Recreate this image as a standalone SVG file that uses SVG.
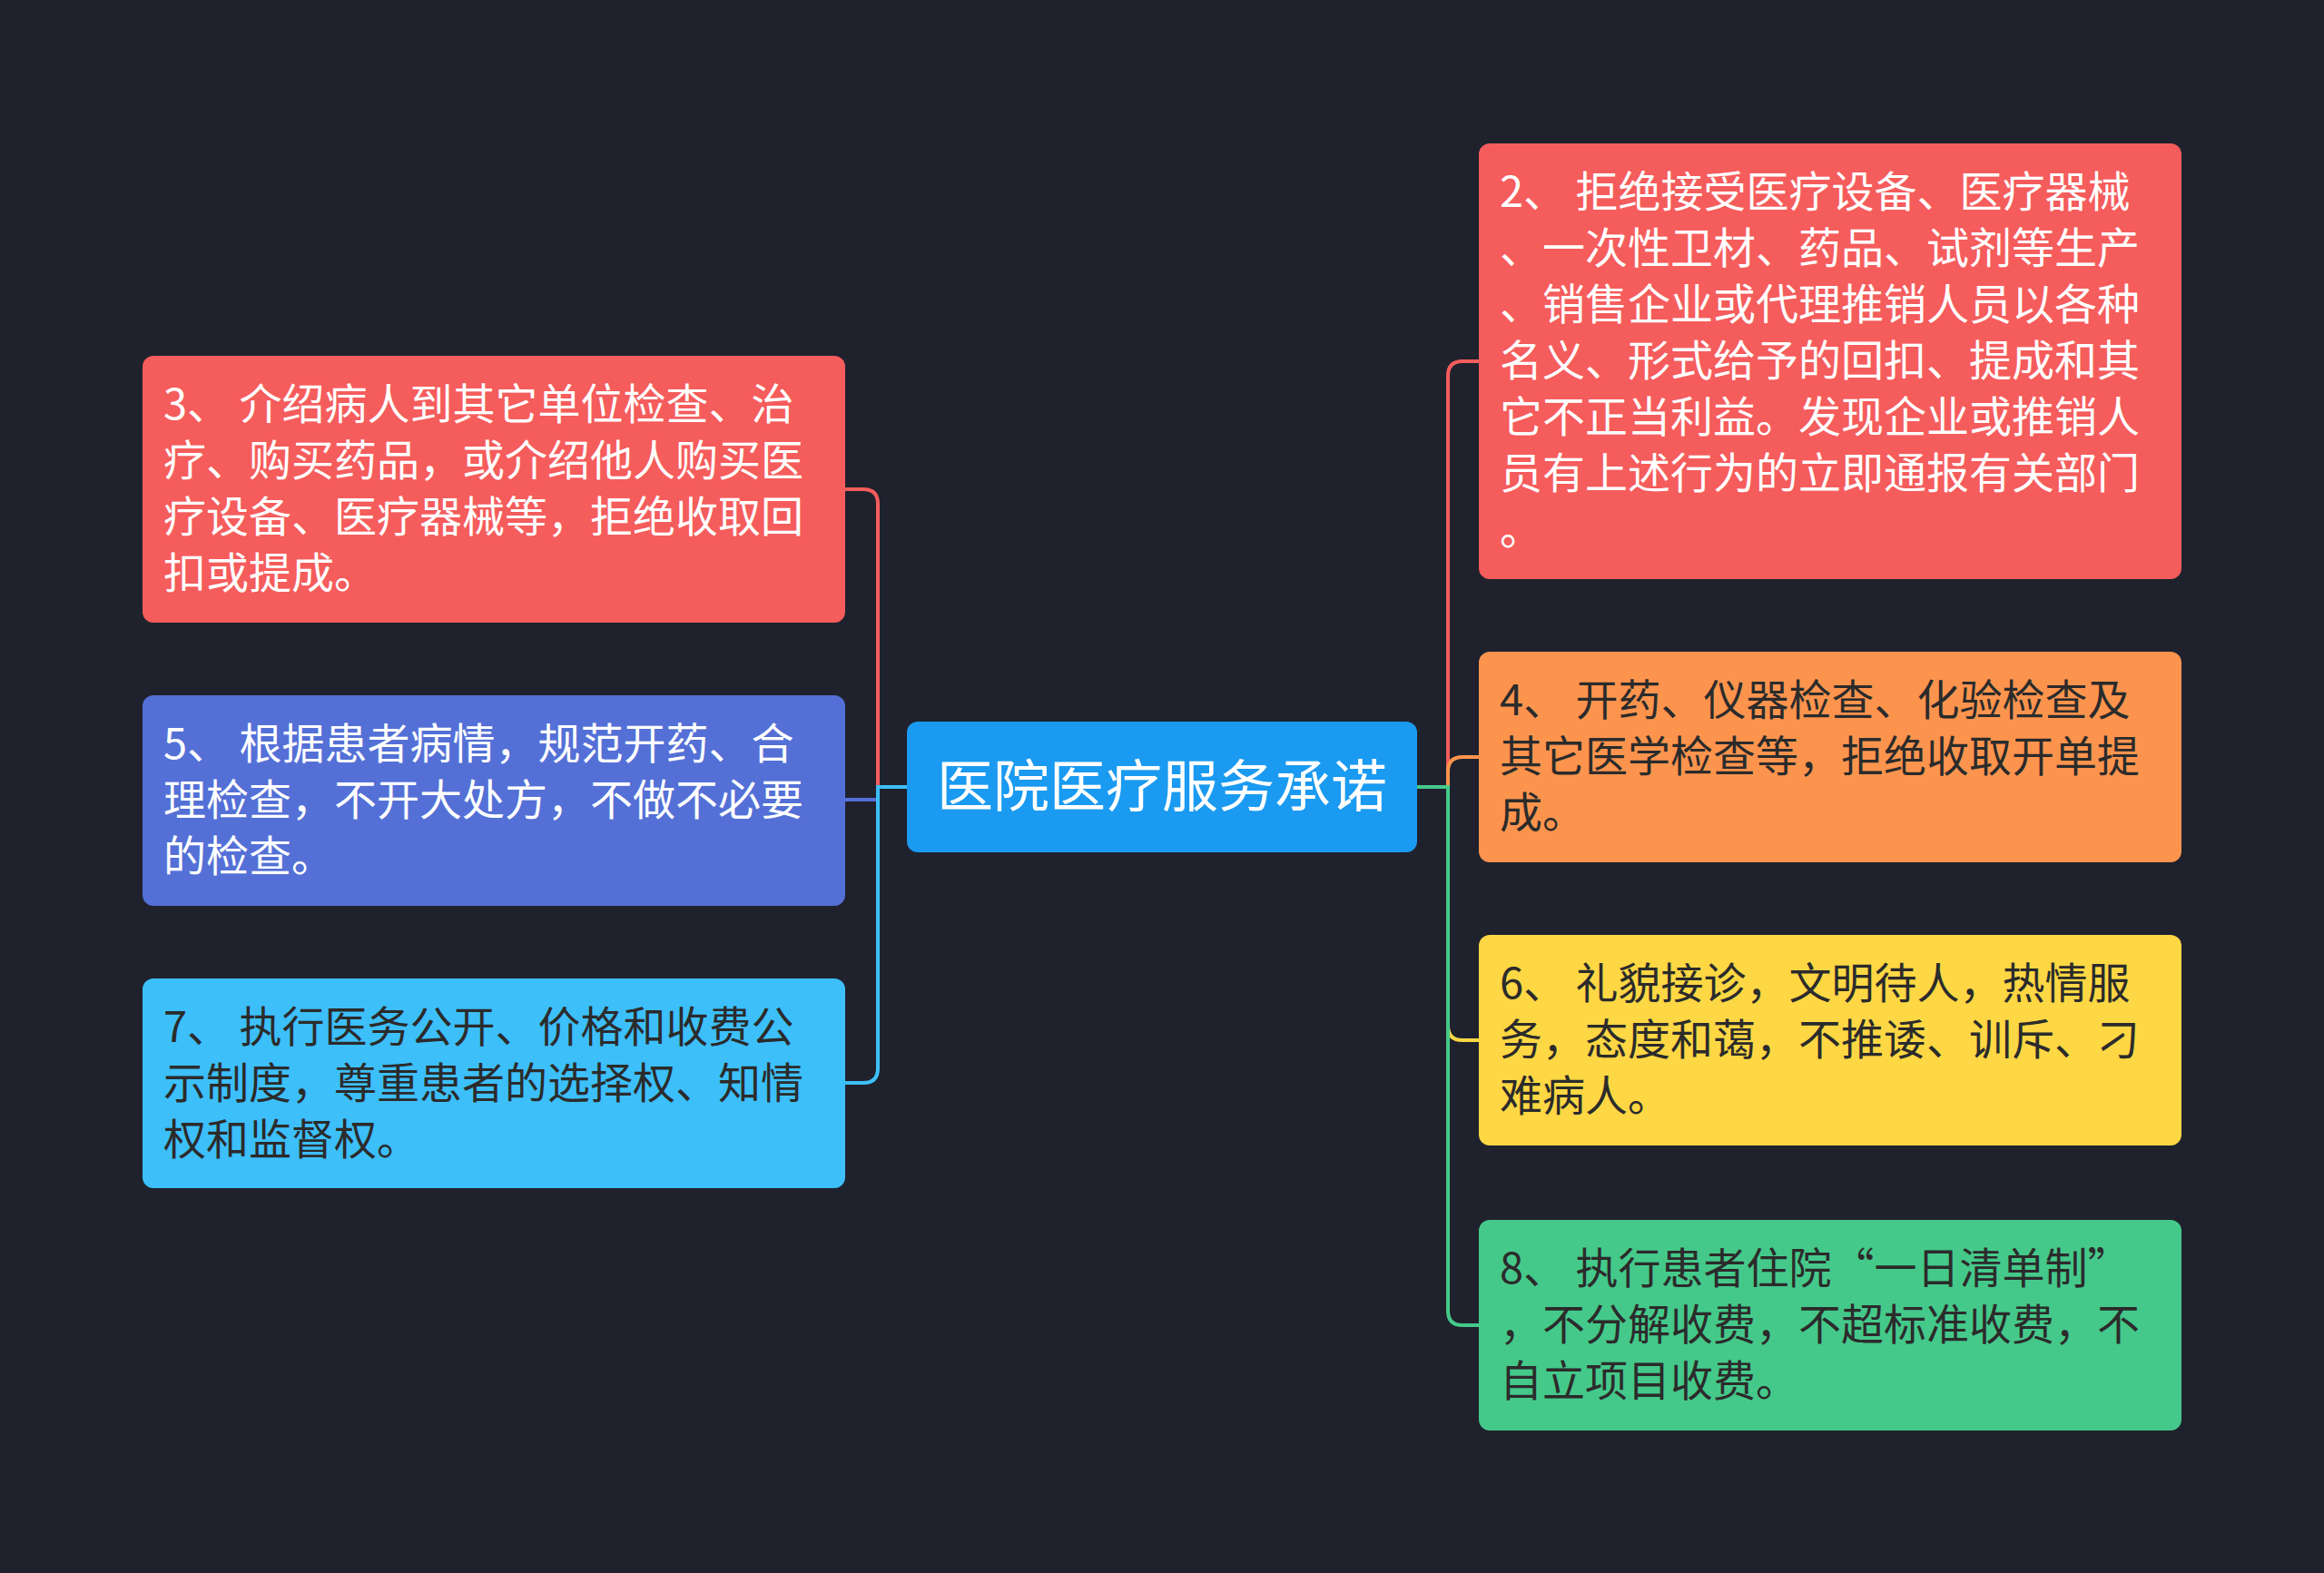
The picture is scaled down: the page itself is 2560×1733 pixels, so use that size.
<svg xmlns="http://www.w3.org/2000/svg" width="2560" height="1733" viewBox="0 0 2560 1733">
<style>
.t{font-family:"Noto Sans CJK SC","Noto Sans",sans-serif;font-size:47px}
.w{fill:#ffffff}.d{fill:#2b2b2b}
.c{fill:none;stroke-width:4}
</style>
<rect width="2560" height="1733" fill="#1f222d"/>
<g id="connectors">
<path class="c" stroke="#f55c5c" d="M999 867 H967 V555 Q967 539 951 539 H931"/>
<path class="c" stroke="#5470d6" d="M999 867 H967 V881 H931"/>
<path class="c" stroke="#3dbffa" d="M999 867 H967 V1177 Q967 1193 951 1193 H931"/>
<path class="c" stroke="#f55c5c" d="M1561 867 H1595 V414 Q1595 398 1611 398 H1629"/>
<path class="c" stroke="#fd944e" d="M1561 867 H1595 V850 Q1595 834 1611 834 H1629"/>
<path class="c" stroke="#fdd744" d="M1561 867 H1595 V1130 Q1595 1146 1611 1146 H1629"/>
<path class="c" stroke="#45c98a" d="M1561 867 H1595 V1444 Q1595 1460 1611 1460 H1629"/>
</g>
<g id="center"><rect x="999" y="795" width="562" height="144" rx="12" fill="#1a9af0"/>
<text class="t w" x="1280" y="889" text-anchor="middle" style="font-size:62px">医院医疗服务承诺</text></g>
<g id="n3"><rect x="157" y="392" width="774" height="294" rx="12" fill="#f55c5c"/>
<text class="t w"><tspan x="180" y="462">3、 介绍病人到其它单位检查、治</tspan><tspan x="180" y="524">疗、购买药品，或介绍他人购买医</tspan><tspan x="180" y="586">疗设备、医疗器械等，拒绝收取回</tspan><tspan x="180" y="648">扣或提成。</tspan></text></g>
<g id="n5"><rect x="157" y="766" width="774" height="232" rx="12" fill="#5470d6"/>
<text class="t w"><tspan x="180" y="836">5、 根据患者病情，规范开药、合</tspan><tspan x="180" y="898">理检查，不开大处方，不做不必要</tspan><tspan x="180" y="960">的检查。</tspan></text></g>
<g id="n7"><rect x="157" y="1078" width="774" height="231" rx="12" fill="#3dbffa"/>
<text class="t d"><tspan x="180" y="1148">7、 执行医务公开、价格和收费公</tspan><tspan x="180" y="1210">示制度，尊重患者的选择权、知情</tspan><tspan x="180" y="1272">权和监督权。</tspan></text></g>
<g id="n2"><rect x="1629" y="158" width="774" height="480" rx="12" fill="#f55c5c"/>
<text class="t w"><tspan x="1652" y="228">2、 拒绝接受医疗设备、医疗器械</tspan><tspan x="1652" y="290">、一次性卫材、药品、试剂等生产</tspan><tspan x="1652" y="352">、销售企业或代理推销人员以各种</tspan><tspan x="1652" y="414">名义、形式给予的回扣、提成和其</tspan><tspan x="1652" y="476">它不正当利益。发现企业或推销人</tspan><tspan x="1652" y="538">员有上述行为的立即通报有关部门</tspan><tspan x="1652" y="600">。</tspan></text></g>
<g id="n4"><rect x="1629" y="718" width="774" height="232" rx="12" fill="#fd944e"/>
<text class="t d"><tspan x="1652" y="788">4、 开药、仪器检查、化验检查及</tspan><tspan x="1652" y="850">其它医学检查等，拒绝收取开单提</tspan><tspan x="1652" y="912">成。</tspan></text></g>
<g id="n6"><rect x="1629" y="1030" width="774" height="232" rx="12" fill="#fdd744"/>
<text class="t d"><tspan x="1652" y="1100">6、 礼貌接诊，文明待人，热情服</tspan><tspan x="1652" y="1162">务，态度和蔼，不推诿、训斥、刁</tspan><tspan x="1652" y="1224">难病人。</tspan></text></g>
<g id="n8"><rect x="1629" y="1344" width="774" height="232" rx="12" fill="#45c98a"/>
<text class="t d"><tspan x="1652" y="1414">8、 执行患者住院“一日清单制”</tspan><tspan x="1652" y="1476">，不分解收费，不超标准收费，不</tspan><tspan x="1652" y="1538">自立项目收费。</tspan></text></g>
</svg>
